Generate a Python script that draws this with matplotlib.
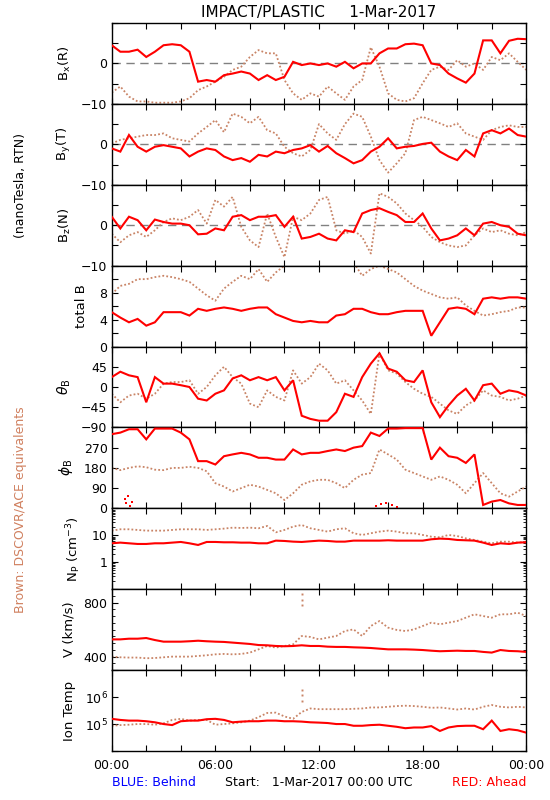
import numpy as np
import matplotlib
matplotlib.use("Agg")
import matplotlib.pyplot as plt
from matplotlib.ticker import FixedLocator, NullFormatter, LogLocator, MultipleLocator

plt.rcParams['font.family'] = ['DejaVu Sans']

RED = '#ff0000'
BROWN = '#c98466'

hours = np.arange(0, 24.01, 0.5)

bx_red = [4.5, 2.9, 2.9, 3.4, 1.6, 2.9, 4.5, 4.75, 4.5, 2.9,
          -4.5, -4.1, -4.5, -2.9, -2.5, -2.0, -2.5, -4.1, -2.9, -4.1,
          -3.3, 0.4, -0.4, 0.0, -0.4, 0.0, -0.8, 0.4, -1.2, 0.0,
          0.0, 2.5, 3.7, 3.7, 4.75, 4.9, 4.5, 0.0, -0.4, -2.5,
          -3.7, -4.75, -2.5, 5.7, 5.7, 2.5, 5.6, 6.1, 6.0]
bx_brown = [-7.2, -5.7, -8.2, -9.4, -9.4, -9.7, -9.7, -9.7, -9.4, -8.6,
            -6.6, -5.7, -4.5, -3.3, -1.6, -0.8, 1.6, 3.3, 2.5, 2.5,
            -4.1, -7.4, -9.0, -7.4, -8.2, -5.7, -7.4, -9.0, -5.7, -4.1,
            4.0, -0.8, -7.4, -9.0, -9.4, -8.6, -4.9, -1.6, -0.8, -1.6,
            0.8, -0.8, 0.0, -1.6, 1.6, 0.8, 2.5, 0.4, -1.6]

by_red = [-1.0, -1.8, 2.3, -0.6, -1.8, -0.6, -0.2, -0.6, -1.0, -3.0,
          -1.8, -1.0, -1.4, -3.0, -3.9, -3.4, -4.3, -2.6, -3.0, -1.8,
          -2.2, -1.4, -1.0, -0.2, -1.8, -0.4, -2.2, -3.4, -4.7, -3.9,
          -1.8, -0.6, 1.5, -1.0, -0.6, -0.4, 0.1, 0.4, -1.8, -3.0,
          -3.9, -1.4, -3.0, 2.7, 3.5, 2.7, 3.9, 2.3, 1.9]
by_brown = [0.2, 1.1, 1.5, 1.9, 2.3, 2.3, 2.7, 1.5, 1.1, 0.7,
            2.7, 4.3, 6.0, 3.0, 7.6, 6.8, 5.2, 6.8, 3.5, 2.7,
            -0.6, -2.2, -3.0, -1.4, 5.0, 2.7, 1.1, 5.0, 7.6, 6.8,
            1.9, -3.9, -7.0, -4.7, -2.2, 6.0, 6.8, 6.0, 5.2, 4.3,
            5.2, 2.7, 1.9, 1.1, 3.5, 4.3, 4.7, 4.3, 4.3]

bz_red = [2.1, -0.8, 2.1, 1.25, -1.25, 1.4, 0.8, 0.4, 0.4, 0.0,
          -2.25, -2.1, -0.8, -1.25, 2.1, 2.5, 1.25, 2.1, 2.1, 2.5,
          -0.4, 2.1, -3.3, -2.9, -2.1, -3.3, -3.75, -1.25, -1.7, 2.9,
          3.75, 4.2, 3.3, 2.5, 0.8, 0.8, 2.9, -0.8, -3.75, -3.3,
          -2.5, -0.8, -2.5, 0.4, 0.8, 0.0, -0.4, -2.1, -2.5]
bz_brown = [-2.1, -4.2, -2.5, -1.7, -2.9, -1.25, 0.8, 1.7, 1.25, 2.1,
            3.75, 0.4, 6.25, 4.6, 7.0, -0.4, -3.75, -5.4, 2.9, -2.9,
            -7.9, 2.1, 1.25, 2.9, 6.25, 7.0, -1.25, -2.1, -1.25, -2.9,
            -7.0, 7.9, 7.0, 5.4, 2.9, 1.25, -0.4, -2.9, -4.2, -5.0,
            -5.4, -5.0, -2.5, -0.8, -1.7, -1.25, -2.1, -2.5, -1.7]

btot_red = [5.1, 4.3, 3.6, 4.1, 3.1, 3.6, 5.1, 5.1, 5.1, 4.6,
            5.6, 5.3, 5.6, 5.8, 5.6, 5.3, 5.6, 5.8, 5.8, 4.8,
            4.3, 3.8, 3.6, 3.8, 3.6, 3.6, 4.6, 4.8, 5.6, 5.6,
            5.1, 4.8, 4.8, 5.1, 5.3, 5.3, 5.3, 1.6, 3.6, 5.6,
            5.8, 5.6, 4.8, 7.1, 7.3, 7.1, 7.3, 7.3, 7.1]
btot_brown = [7.8, 9.0, 9.3, 10.0, 10.0, 10.3, 10.5, 10.3, 10.0, 9.6,
              8.6, 7.6, 6.8, 8.6, 9.6, 10.5, 10.0, 11.5, 9.6, 11.0,
              12.0, 13.0, 13.0, 13.5, 14.0, 14.0, 14.0, 13.0, 12.5, 10.5,
              11.5, 12.0, 11.5, 11.0, 10.0, 9.0, 8.3, 7.8, 7.3, 7.1,
              7.3, 6.1, 5.3, 4.6, 4.8, 5.1, 5.3, 5.8, 5.8]

theta_red = [22, 34, 26, 22, -34, 22, 7.5, 7.5, 4, 0,
             -26, -30, -15, -7.5, 19, 26, 15, 22, 15, 22,
             -7.5, 15, -64, -71, -75, -75, -56, -15, -22, 22,
             52, 75, 41, 34, 15, 11, 37, -34, -67, -41,
             -19, -4, -30, 4, 7.5, -15, -7.5, -11, -19]
theta_brown = [-15, -34, -19, -15, -26, -15, 7.5, 11, 11, 15,
               -15, 0, 26, 45, 22, 7.5, -37, -45, -7.5, -22,
               -30, 37, 7.5, 22, 52, 37, 7.5, 15, -7.5, -30,
               -60, 75, 37, 30, 11, -4, -15, -22, -37, -52,
               -60, -41, -30, -7.5, -19, -22, -30, -26, -19]

phi_red = [330, 337, 352, 352, 307, 355, 355, 355, 337, 307,
           210, 210, 195, 232, 240, 247, 240, 225, 225, 217,
           217, 262, 240, 247, 247, 255, 262, 255, 270, 277,
           337, 322, 355, 355, 357, 357, 357, 217, 270, 232,
           225, 202, 240, 15, 30, 37, 22, 15, 15]
phi_brown = [180, 170, 180, 187, 183, 172, 170, 180, 180, 185,
             180, 165, 112, 97, 75, 90, 105, 97, 82, 67,
             37, 67, 105, 120, 127, 127, 112, 90, 127, 150,
             157, 262, 240, 217, 172, 157, 142, 127, 142, 127,
             105, 67, 112, 157, 112, 67, 52, 75, 97]
phi_red_wrap_t = [0.75, 0.85, 0.95, 1.05, 1.15, 15.3, 15.6, 15.9, 16.2, 16.5]
phi_red_wrap = [40, 25, 55, 10, 30, 10, 20, 25, 15, 8]

np_red = [5.05, 5.35, 5.05, 4.77, 4.77, 5.05, 5.05, 5.35, 5.66, 5.05,
          4.38, 5.66, 5.66, 5.5, 5.5, 5.35, 5.35, 5.05, 5.05, 6.34,
          6.16, 5.82, 5.66, 5.99, 6.34, 6.16, 5.82, 5.82, 6.34, 6.34,
          6.34, 6.34, 6.53, 6.34, 6.34, 6.34, 6.34, 7.11, 7.53, 7.32,
          6.72, 6.53, 6.34, 5.35, 4.38, 5.05, 4.77, 5.35, 5.5]
np_brown = [14.9, 16.7, 16.7, 15.8, 14.9, 14.9, 14.9, 15.8, 16.7, 16.7,
            16.7, 15.8, 16.7, 17.7, 19.2, 18.7, 19.2, 18.2, 22.2, 12.9,
            15.8, 21.0, 24.1, 18.2, 15.8, 13.7, 16.7, 18.2, 11.9, 10.3,
            11.9, 13.7, 14.9, 13.7, 11.9, 11.9, 10.3, 8.9, 8.4, 10.3,
            9.4, 7.7, 6.7, 5.8, 5.05, 5.8, 5.8, 5.35, 5.8]

v_red = [528, 528, 533, 533, 538, 523, 511, 511, 511, 514,
         518, 514, 511, 509, 504, 499, 494, 486, 484, 479,
         477, 479, 484, 479, 479, 474, 472, 472, 469, 467,
         464, 459, 454, 454, 454, 452, 449, 444, 440, 442,
         444, 442, 442, 435, 430, 449, 442, 440, 435]
v_brown = [400, 395, 393, 393, 388, 390, 395, 400, 400, 400,
           405, 410, 417, 420, 417, 420, 430, 454, 479, 467,
           479, 491, 553, 546, 528, 541, 553, 590, 602, 553,
           627, 664, 615, 598, 590, 602, 627, 652, 640, 652,
           664, 689, 714, 701, 689, 714, 714, 726, 701]
v_brown_spike_t = [11.0, 11.02, 11.04]
v_brown_spike = [862, 820, 780]

temp_red_1e5 = [1.56, 1.42, 1.34, 1.34, 1.27, 1.16, 1.0, 0.915, 1.27, 1.34,
                1.34, 1.51, 1.56, 1.42, 1.16, 1.23, 1.27, 1.27, 1.34, 1.34,
                1.27, 1.27, 1.23, 1.16, 1.13, 1.09, 1.0, 1.0, 0.863, 0.863,
                0.915, 0.943, 0.863, 0.79, 0.70, 0.745, 0.745, 0.838, 0.554, 0.745,
                0.838, 0.863, 0.863, 0.642, 1.34, 0.554, 0.642, 0.588, 0.478]
temp_brown_1e5 = [0.863, 0.915, 0.943, 1.0, 1.0, 0.943, 1.06, 1.42, 1.56, 1.34,
                  1.42, 1.42, 0.943, 1.0, 1.06, 1.16, 1.34, 1.80, 2.57, 2.65,
                  1.91, 1.56, 2.81, 3.78, 3.56, 3.56, 3.56, 3.56, 3.67, 3.78,
                  4.12, 4.12, 4.37, 4.64, 4.78, 4.64, 4.37, 4.0, 4.12, 3.78,
                  3.45, 3.78, 3.45, 4.37, 5.08, 4.37, 4.12, 4.37, 4.12]
temp_brown_spike_t = [11.0, 11.02, 11.04]
temp_brown_spike_1e5 = [19.0, 12.0, 7.0]

xtick_labels = ['00:00', '06:00', '12:00', '18:00', '00:00']

# ---------------- layout ----------------
W, H = 550, 800
fig = plt.figure(figsize=(5.5, 8), dpi=100)
left_px, right_px = 111.7, 526.3
top_px, bot_px = 23.0, 751.0
npan = 9
ph = (bot_px - top_px) / npan

axes = []
for i in range(npan):
    y0 = top_px + i * ph
    ax = fig.add_axes([left_px / W, 1 - (y0 + ph) / H, (right_px - left_px) / W, ph / H])
    axes.append(ax)

FS = 9

def style(ax, last=False):
    ax.set_xlim(0, 24)
    if last:
        ax.set_xticks(np.arange(0, 24.1, 2))
        labs = [xtick_labels[int(k // 6)] if k % 6 == 0 else '' for k in range(0, 25, 2)]
        ax.set_xticklabels(labs)
    else:
        ax.set_xticks(np.arange(0, 24.1, 2))
        ax.xaxis.set_major_formatter(NullFormatter())
    ax.tick_params(axis='both', which='major', direction='in', length=4, width=0.8,
                   top=True, right=True, labelsize=FS, pad=3)
    ax.tick_params(axis='x', which='major', pad=6)
    ax.tick_params(axis='both', which='minor', direction='in', length=2, width=0.6,
                   top=True, right=True)
    for s in ax.spines.values():
        s.set_linewidth(1.0)

def red_line(ax, x, y):
    ax.plot(x, y, color=RED, lw=1.5, solid_joinstyle='miter', zorder=3)

def brown_line(ax, x, y):
    ax.plot(x, y, color=BROWN, lw=1.3, linestyle=(0, (1, 1.2)), zorder=2)

def set_yticks(ax, ticks, labels):
    ax.set_yticks(ticks)
    ax.set_yticklabels(labels)

# B components
blabels = [r'B$_\mathregular{x}$(R)', r'B$_\mathregular{y}$(T)', r'B$_\mathregular{z}$(N)']
bred = [bx_red, by_red, bz_red]
bbrown = [bx_brown, by_brown, bz_brown]
for i in range(3):
    ax = axes[i]
    ax.axhline(0, color='#808080', lw=1.0, linestyle=(0, (6, 4)), zorder=1)
    brown_line(ax, hours, bbrown[i])
    red_line(ax, hours, bred[i])
    ax.set_ylim(-10, 10)
    set_yticks(ax, [-10, -5, 0, 5, 10], ['\u221210', '', '0', '', ''])
    ax.set_ylabel(blabels[i], fontsize=FS + 0.5, labelpad=6)
    style(ax)

# total B
ax = axes[3]
brown_line(ax, hours, btot_brown)
red_line(ax, hours, btot_red)
ax.set_ylim(0, 12)
set_yticks(ax, [0, 2, 4, 6, 8, 10, 12], ['0', '', '4', '', '8', '', ''])
ax.set_ylabel('total B', fontsize=FS + 0.5, labelpad=8)
style(ax)

# theta
ax = axes[4]
brown_line(ax, hours, theta_brown)
red_line(ax, hours, theta_red)
ax.set_ylim(-90, 90)
set_yticks(ax, [-90, -45, 0, 45, 90], ['\u221290', '\u221245', '0', '45', ''])
ax.set_ylabel(r'$\theta_\mathregular{B}$', fontsize=FS + 1, labelpad=6)
style(ax)

# phi
ax = axes[5]
brown_line(ax, hours, phi_brown)
red_line(ax, hours, phi_red)
ax.plot(phi_red_wrap_t, phi_red_wrap, 's', color=RED, ms=1.6, mew=0, zorder=3)
ax.set_ylim(0, 360)
set_yticks(ax, [0, 90, 180, 270, 360], ['0', '90', '180', '270', ''])
ax.set_ylabel(r'$\phi_\mathregular{B}$', fontsize=FS + 1, labelpad=6)
style(ax)

# density
ax = axes[6]
ax.set_yscale('log')
brown_line(ax, hours, np_brown)
red_line(ax, hours, np_red)
ax.set_ylim(0.1, 100)
ax.set_yticks([0.1, 1, 10, 100])
ax.set_yticklabels(['', '1', '10', ''])
ax.yaxis.set_minor_locator(LogLocator(base=10, subs=np.arange(2, 10), numticks=20))
ax.yaxis.set_minor_formatter(NullFormatter())
ax.set_ylabel(r'N$_\mathregular{P}$ (cm$^{\mathregular{-3}}$)', fontsize=FS + 0.5, labelpad=6)
style(ax)

# speed
ax = axes[7]
brown_line(ax, hours, v_brown)
ax.plot(v_brown_spike_t, v_brown_spike, 's', color=BROWN, ms=1.4, mew=0, zorder=2)
red_line(ax, hours, v_red)
ax.set_ylim(300, 900)
set_yticks(ax, [400, 800], ['400', '800'])
ax.yaxis.set_minor_locator(MultipleLocator(50))
ax.set_ylabel('V (km/s)', fontsize=FS + 0.5, labelpad=6)
style(ax)

# temperature
ax = axes[8]
ax.set_yscale('log')
brown_line(ax, hours, np.array(temp_brown_1e5) * 1e5)
ax.plot(temp_brown_spike_t, np.array(temp_brown_spike_1e5) * 1e5, 's', color=BROWN, ms=1.4, mew=0)
red_line(ax, hours, np.array(temp_red_1e5) * 1e5)
ax.set_ylim(1e4, 1e7)
ax.set_yticks([1e4, 1e5, 1e6, 1e7])
ax.set_yticklabels(['', r'10$^\mathregular{5}$', r'10$^\mathregular{6}$', ''])
ax.yaxis.set_minor_locator(FixedLocator([]))
ax.set_ylabel('Ion Temp', fontsize=FS + 0.5, labelpad=6)
style(ax, last=True)

# texts
cx = (left_px + right_px) / 2 / W
fig.text(cx, 1 - 12 / H, 'IMPACT/PLASTIC     1-Mar-2017', ha='center', va='center', fontsize=11)
fig.text(21 / W, 1 - 186 / H, '(nanoTesla, RTN)', rotation=90, ha='center', va='center', fontsize=FS)
fig.text(21 / W, 1 - 510 / H, 'Brown: DSCOVR/ACE equivalents', rotation=90, ha='center', va='center',
         fontsize=FS, color='#d0805f')
fig.text(left_px / W, 1 - 783 / H, 'BLUE: Behind', ha='left', va='center', fontsize=FS, color='#0000ff')
fig.text(cx, 1 - 783 / H, 'Start:   1-Mar-2017 00:00 UTC', ha='center', va='center', fontsize=FS)
fig.text(right_px / W, 1 - 783 / H, 'RED: Ahead', ha='right', va='center', fontsize=FS, color=RED)

fig.savefig('out.png', dpi=100)
